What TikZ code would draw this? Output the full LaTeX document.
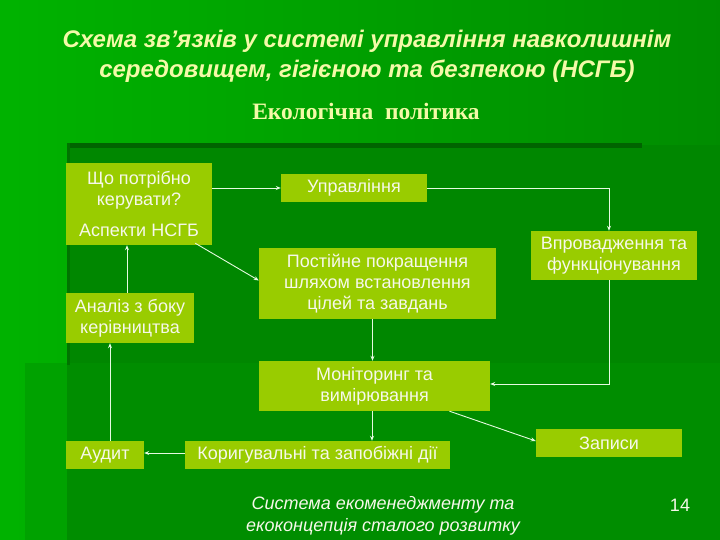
\documentclass[tikz,border=0pt]{standalone}
\usepackage{fontspec}
\setmainfont{Liberation Sans}
\newfontfamily\serifcyr{Liberation Serif}
\usetikzlibrary{arrows.meta,calc}
\definecolor{boxfill}{HTML}{99CC00}
\definecolor{boxtext}{HTML}{F6F8EA}
\definecolor{titlecol}{HTML}{F4FAA8}
\definecolor{linecol}{HTML}{E6FAE0}
\definecolor{panelA}{HTML}{008700}
\definecolor{panelB}{HTML}{008D00}
\definecolor{stripcol}{HTML}{00A200}
\definecolor{darkbar}{HTML}{006400}
\tikzset{
  box/.style={fill=boxfill, text=boxtext, inner sep=0pt, align=center,
    font=\fontsize{18}{21}\selectfont},
  conn/.style={draw=linecol, line width=0.9pt, -{Stealth[length=5pt,width=4pt]}}
}
\begin{document}
\begin{tikzpicture}[x=1pt,y=-1pt]
\useasboundingbox (0,0) rectangle (720,540);
% background
\shade[left color=green!70!black!100, right color=green!55!black] (0,0) rectangle (720,540);
\fill[panelA] (67,145) rectangle (720,363);
\fill[stripcol] (25,363) rectangle (67,540);
\fill[panelB] (67,363) rectangle (720,540);
\fill[darkbar] (67,143) rectangle (642,148);
\fill[darkbar!90!green] (67,143) rectangle (70,365);
% titles
\node[text=titlecol, font=\fontsize{24}{30}\selectfont\bfseries\itshape, align=center] (title) at (367,56) {Схема зв’язків у системі управління навколишнім\\середовищем, гігієною та безпекою (НСГБ)};
\node[text=titlecol, font=\serifcyr\fontsize{23.5}{26}\selectfont\bfseries] (pol) at (366,111) {Екологічна \ політика};
% boxes
\node[box, minimum width=146, minimum height=82] (b1) at (139,204) {Що потрібно\\керувати?\\[10pt]Аспекти НСГБ};
\node[box, minimum width=146, minimum height=28] (b2) at (354,188) {Управління};
\node[box, minimum width=237, minimum height=71] (b3) at (377.5,283.5) {Постійне покращення\\шляхом встановлення\\цілей та завдань};
\node[box, minimum width=166, minimum height=49] (b4) at (614,255.5) {Впровадження та\\функціонування};
\node[box, minimum width=128, minimum height=50] (b5) at (130,318) {Аналіз з боку\\керівництва};
\node[box, minimum width=231, minimum height=50] (b6) at (374.5,386) {Моніторинг та\\вимірювання};
\node[box, minimum width=78, minimum height=28] (b7) at (105,455) {Аудит};
\node[box, minimum width=265, minimum height=28] (b8) at (317.5,455) {Коригувальні та запобіжні дії};
\node[box, minimum width=146, minimum height=28] (b9) at (609,443) {Записи};
% connectors
\draw[conn] (b1.east |- b2.west) -- (b2.west);
\draw[conn] (b2.east) -| ([xshift=-5]b4.north);
\draw[conn] ([xshift=-17,yshift=2]b1.south east) -- ([yshift=3]b3.west);
\draw[conn] ([xshift=-3]b5.north) -- ([xshift=-3]b5.north |- b1.south);
\draw[conn] ([xshift=-5]b3.south) -- ([xshift=-5]b3.south |- b6.north);
\draw[conn] ([xshift=-5]b4.south) |- ([yshift=2]b6.east);
\draw[conn] ([xshift=75]b6.south) -- ([yshift=2]b9.west);
\draw[conn] ([xshift=-2.5]b6.south) -- ([xshift=-2.5]b6.south |- b8.north);
\draw[conn] ([yshift=2]b8.west) -- ([yshift=2]b8.west -| b7.east);
\draw[conn] ([xshift=5]b7.north) -- ([xshift=5]b7.north |- b5.south);
% footer
\node[text=boxtext, font=\fontsize{18}{22}\selectfont\itshape, align=center] (foot) at (383,516) {Система екоменеджменту та\\екоконцепція сталого розвитку};
\node[text=boxtext, font=\fontsize{18}{20}\selectfont] (num) at (680,505) {14};
\end{tikzpicture}
\end{document}
